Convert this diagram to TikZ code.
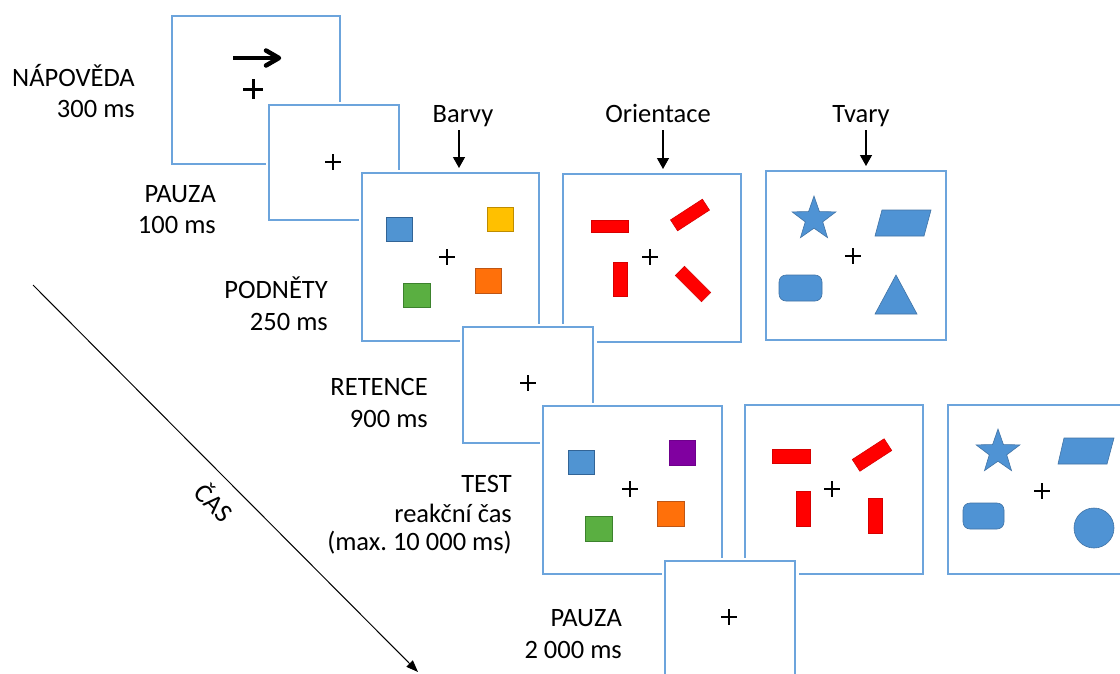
\documentclass[tikz,border=0pt]{standalone}
\usepackage{fontspec}
\setmainfont{Carlito}
\usetikzlibrary{arrows.meta}
\frenchspacing
\definecolor{boxblue}{RGB}{108,164,220}
\definecolor{shpfill}{RGB}{79,147,212}
\definecolor{shpline}{RGB}{65,115,165}
\definecolor{sqblue}{RGB}{80,148,210}
\definecolor{sqblueline}{RGB}{50,100,150}
\definecolor{sqyellow}{RGB}{255,192,0}
\definecolor{sqyellowline}{RGB}{190,140,0}
\definecolor{sqorange}{RGB}{255,112,10}
\definecolor{sqorangeline}{RGB}{190,85,20}
\definecolor{sqgreen}{RGB}{90,175,65}
\definecolor{sqgreenline}{RGB}{60,130,45}
\definecolor{sqpurple}{RGB}{128,0,160}
\definecolor{sqpurpleline}{RGB}{110,0,140}
\definecolor{barred}{RGB}{255,0,0}
\definecolor{barredline}{RGB}{215,0,0}
\newcommand\plusat[3]{\draw[plusline] (#1-#3,#2) -- (#1+#3,#2) (#1,#2-#3) -- (#1,#2+#3);}
\begin{document}
\begin{tikzpicture}[x=1pt,y=-1pt,
  frame/.style={draw=boxblue, line width=2pt, fill=white, inner sep=0pt, outer sep=0pt,
    preaction={draw=white, line width=7pt}},
  lbl/.style={anchor=base east, inner sep=0pt, font=\fontsize{26.5}{30}\selectfont},
  hdrtext/.style={anchor=base, inner sep=0pt, font=\fontsize{26.5}{30}\selectfont},
  hdr/.style={line width=1.3pt, -{Triangle[length=11pt,width=12pt]}, shorten >=5pt},
  timearr/.style={line width=1pt, -{Triangle[length=12pt,width=9pt]}},
  plusline/.style={line width=1.8pt, black},
  sq/.style={line width=1pt},
  redbar/.style={fill=barred, draw=barredline, line width=0.6pt},
  shp/.style={fill=shpfill, draw=shpline, line width=0.6pt}
]
\clip (0,0) rectangle (1120,673);
\fill[white] (0,0) rectangle (1120,673);

% time axis
\coordinate (t0) at (33,285);
\coordinate (t1) at (418,672);
\draw[timearr] (t0) -- (t1);
\node[inner sep=0pt, rotate=-45, font=\fontsize{26.5}{30}\selectfont] (cas) at (215,502) {ČAS};

% labels
\node[lbl] (l1a) at (135,86) {NÁPOVĚDA};
\node[lbl] (l1b) at (135,117) {300 ms};
\node[lbl] (l2a) at (216,202) {PAUZA};
\node[lbl] (l2b) at (216,233) {100 ms};
\node[lbl] (l3a) at (328,298) {PODNĚTY};
\node[lbl] (l3b) at (328,330) {250 ms};
\node[lbl] (l4a) at (428,395) {RETENCE};
\node[lbl] (l4b) at (428,427) {900 ms};
\node[lbl] (l5a) at (512,492) {TEST};
\node[lbl] (l5b) at (512,522) {reakční čas};
\node[lbl] (l5c) at (512,550) {(max. 10 000 ms)};
\node[lbl] (l6a) at (622,626) {PAUZA};
\node[lbl] (l6b) at (622,658) {2 000 ms};

% frames in stacking order
\node[frame, minimum width=168pt, minimum height=148pt] (bNap) at (256,90) {};
\draw[line width=4.5pt] (233,58) -- (277,58);
\draw[line width=4.5pt, line join=round, line cap=round] (266,50.5) -- (279,58) -- (266,65.5);
\draw[plusline, line width=3pt] (243,89) -- (263,89) (253,79) -- (253,99);

\node[frame, minimum width=130pt, minimum height=115pt] (bP1) at (334,162.5) {};
\plusat{333}{162}{8}

\node[frame, minimum width=177pt, minimum height=168pt] (bB) at (450.5,257) {};
\plusat{447}{257}{8}
\draw[sq, fill=sqblue, draw=sqblueline] (386,217) rectangle (412,241);
\draw[sq, fill=sqyellow, draw=sqyellowline] (487,207) rectangle (513,231);
\draw[sq, fill=sqorange, draw=sqorangeline] (475,268) rectangle (501,293);
\draw[sq, fill=sqgreen, draw=sqgreenline] (403,283) rectangle (430,307);

\node[frame, minimum width=178pt, minimum height=168pt] (bO) at (652,258) {};
\plusat{650}{257}{8}
\draw[redbar] (591,220) rectangle (628,232);
\draw[redbar] (613,262) rectangle (627,296);
\draw[redbar, rotate around={33:(690,215)}] (671,208.5) rectangle (709,221.5);
\draw[redbar, rotate around={-45:(693,284)}] (674.5,277.5) rectangle (711.5,290.5);

\node[frame, minimum width=180pt, minimum height=169pt] (bT) at (856,255.5) {};
\plusat{853}{256}{8}
\draw[shp] (814,219) +(-90:23) -- +(-54:9.2) -- +(-18:23) -- +(18:9.2) -- +(54:23) -- +(90:9.2) -- +(126:23) -- +(162:9.2) -- +(198:23) -- +(234:9.2) -- cycle;
\draw[shp] (882,210) -- (931,210) -- (924,236) -- (875,236) -- cycle;
\draw[shp, rounded corners=7pt] (779,275) rectangle (822,301);
\draw[shp] (896,275) -- (917,314) -- (875,314) -- cycle;

\node[frame, minimum width=130pt, minimum height=116pt] (bR) at (528,385) {};
\plusat{528}{383}{8}

\node[frame, minimum width=179pt, minimum height=168pt] (tB) at (632.5,490) {};
\plusat{630}{489}{8}
\draw[sq, fill=sqblue, draw=sqblueline] (568,450) rectangle (594,474);
\draw[sq, fill=sqpurple, draw=sqpurpleline] (669,440) rectangle (695,465);
\draw[sq, fill=sqorange, draw=sqorangeline] (657,501) rectangle (684,526);
\draw[sq, fill=sqgreen, draw=sqgreenline] (585,516) rectangle (612,541);

\node[frame, minimum width=178pt, minimum height=169pt] (tO) at (834,489.5) {};
\plusat{832}{489}{8}
\draw[redbar] (772,449) rectangle (810,463);
\draw[redbar] (796,491) rectangle (810,526);
\draw[redbar] (868,498) rectangle (882,533);
\draw[redbar, rotate around={33:(872,455)}] (853,448) rectangle (891,462);

\node[frame, minimum width=180pt, minimum height=169pt] (tT) at (1038,489.5) {};
\plusat{1042}{491}{8}
\draw[shp] (998,452) +(-90:23) -- +(-54:9.2) -- +(-18:23) -- +(18:9.2) -- +(54:23) -- +(90:9.2) -- +(126:23) -- +(162:9.2) -- +(198:23) -- +(234:9.2) -- cycle;
\draw[shp] (1064,438) -- (1114,438) -- (1107,464) -- (1058,464) -- cycle;
\draw[shp, rounded corners=7pt] (963,503) rectangle (1004,529);
\draw[shp] (1094,528) circle (20);

\node[frame, minimum width=130pt, minimum height=116pt] (bP2) at (730,619) {};
\plusat{729}{617}{8}

% headers
\node[hdrtext] (hB) at (463,122) {Barvy};
\node[hdrtext] (hO) at (658,122) {Orientace};
\node[hdrtext] (hT) at (861,122) {Tvary};
\coordinate (aB) at (459,130);
\coordinate (aO) at (663,130);
\coordinate (aT) at (866,130);
\draw[hdr] (aB) -- (aB |- bB.north);
\draw[hdr] (aO) -- (aO |- bO.north);
\draw[hdr] (aT) -- (aT |- bT.north);
\end{tikzpicture}
\end{document}
